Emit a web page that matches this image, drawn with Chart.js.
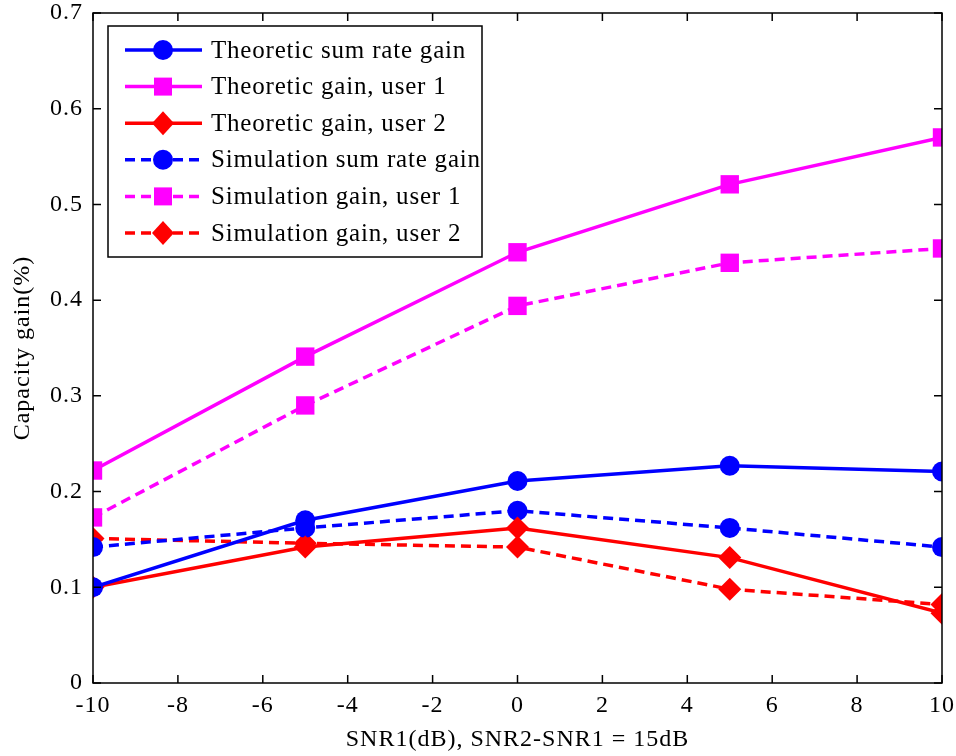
<!DOCTYPE html>
<html>
<head>
<meta charset="utf-8">
<script src="https://cdn.jsdelivr.net/npm/chart.js@4/dist/chart.umd.min.js"></script>
<style>
  html, body { margin: 0; padding: 0; background: #fff; }
  #wrap { width: 956px; height: 756px; }
</style>
</head>
<body>
<div id="wrap"><canvas id="chart" width="956" height="756"></canvas></div>
<script>
// SNR1 values (dB)
const snr1 = [-10, -5, 0, 5, 10];

// capacity gain values
const theoSum   = [0.100, 0.170, 0.211, 0.227, 0.221];
const theoUser1 = [0.222, 0.341, 0.450, 0.521, 0.570];
const theoUser2 = [0.100, 0.142, 0.162, 0.131, 0.073];
const simSum    = [0.142, 0.162, 0.180, 0.162, 0.142];
const simUser1  = [0.173, 0.290, 0.394, 0.439, 0.454];
const simUser2  = [0.151, 0.146, 0.142, 0.098, 0.082];

const seriesNames = [
    'Theoretic sum rate gain',
    'Theoretic gain, user 1',
    'Theoretic gain, user 2',
    'Simulation sum rate gain',
    'Simulation gain, user 1',
    'Simulation gain, user 2'
];

const xTicks = [-10, -8, -6, -4, -2, 0, 2, 4, 6, 8, 10];
const yTicks = [0, 0.1, 0.2, 0.3, 0.4, 0.5, 0.6, 0.7];

const FONT = '"Liberation Serif", "Times New Roman", serif';
const BLUE = '#0000ff', MAGENTA = '#ff00ff', RED = '#ff0000';
const DASH = [10, 6];

function toPoints(values) {
    return values.map((v, i) => ({ x: snr1[i], y: v }));
}

function makeSet(label, values, color, style, radius, dashed) {
    return {
        label: label,
        data: toPoints(values),
        borderColor: color,
        backgroundColor: color,
        borderWidth: 3.5,
        borderDash: dashed ? DASH : [],
        pointStyle: style,
        pointRadius: radius,
        pointHoverRadius: radius,
        pointBorderWidth: 0,
        tension: 0,
        fill: false
    };
}

const datasets = [
    makeSet(seriesNames[0], theoSum, BLUE, 'circle', 10, false),
    makeSet(seriesNames[1], theoUser1, MAGENTA, 'rect', 13, false),
    makeSet(seriesNames[2], theoUser2, RED, 'rectRot', 11.5, false),
    makeSet(seriesNames[3], simSum, BLUE, 'circle', 10, true),
    makeSet(seriesNames[4], simUser1, MAGENTA, 'rect', 13, true),
    makeSet(seriesNames[5], simUser2, RED, 'rectRot', 11.5, true)
];

function drawMarker(ctx, style, x, y, color) {
    ctx.save();
    ctx.fillStyle = color;
    ctx.beginPath();
    if (style === 'circle') {
        ctx.arc(x, y, 10, 0, Math.PI * 2);
    } else if (style === 'rect') {
        ctx.rect(x - 9, y - 9, 18, 18);
    } else {
        ctx.moveTo(x - 11, y);
        ctx.lineTo(x, y - 12);
        ctx.lineTo(x + 11, y);
        ctx.lineTo(x, y + 12);
        ctx.closePath();
    }
    ctx.fill();
    ctx.restore();
}

// the original figure's text is a little wider spaced than Liberation Serif
// (resizing the canvas resets the context, so set it again before layout and draw)
const spacingPlugin = {
    id: 'spacing',
    beforeLayout(chart) { chart.ctx.letterSpacing = '1px'; },
    beforeDraw(chart) { chart.ctx.letterSpacing = '1px'; }
};

// frame with inward ticks on all four sides, like the original figure
const framePlugin = {
    id: 'frame',
    afterDraw(chart) {
        const ctx = chart.ctx;
        const area = chart.chartArea;
        const xs = chart.scales.x, ys = chart.scales.y;
        ctx.save();
        ctx.strokeStyle = '#000';
        ctx.lineWidth = 1.5;
        ctx.strokeRect(area.left, area.top, area.right - area.left, area.bottom - area.top);
        const len = 8;
        ctx.beginPath();
        xTicks.forEach(t => {
            const px = xs.getPixelForValue(t);
            ctx.moveTo(px, area.bottom);
            ctx.lineTo(px, area.bottom - len);
            ctx.moveTo(px, area.top);
            ctx.lineTo(px, area.top + len);
        });
        yTicks.forEach(t => {
            const py = ys.getPixelForValue(t);
            ctx.moveTo(area.left, py);
            ctx.lineTo(area.left + len, py);
            ctx.moveTo(area.right, py);
            ctx.lineTo(area.right - len, py);
        });
        ctx.stroke();
        ctx.restore();
    }
};

// legend box in the upper left, drawn over the data
const legendPlugin = {
    id: 'boxLegend',
    afterDraw(chart) {
        const ctx = chart.ctx;
        const left = 108, top = 26, width = 374, height = 231;
        ctx.save();
        ctx.fillStyle = '#fff';
        ctx.fillRect(left, top, width, height);
        ctx.strokeStyle = '#000';
        ctx.lineWidth = 1.5;
        ctx.strokeRect(left, top, width, height);
        ctx.font = '25px ' + FONT;
        ctx.letterSpacing = '0.8px';
        ctx.textBaseline = 'middle';
        chart.data.datasets.forEach((ds, i) => {
            const y = 50 + i * 36.6;
            ctx.strokeStyle = ds.borderColor;
            ctx.lineWidth = 3.5;
            ctx.setLineDash(ds.borderDash);
            ctx.beginPath();
            ctx.moveTo(125, y);
            ctx.lineTo(202, y);
            ctx.stroke();
            ctx.setLineDash([]);
            drawMarker(ctx, ds.pointStyle, 163, y, ds.borderColor);
            ctx.fillStyle = '#000';
            ctx.fillText(ds.label, 211, y + 1);
        });
        ctx.restore();
    }
};

new Chart(document.getElementById('chart'), {
    type: 'line',
    data: { datasets: datasets },
    options: {
        responsive: false,
        animation: false,
        layout: { padding: { left: 0, right: 0, top: 0, bottom: 0 } },
        plugins: {
            legend: { display: false },
            tooltip: { enabled: false }
        },
        scales: {
            x: {
                type: 'linear',
                min: -10,
                max: 10,
                afterFit: scale => {
                    scale.height = 73;
                    scale.paddingLeft = 0;
                    scale.paddingRight = 14;
                },
                afterBuildTicks: scale => { scale.ticks = xTicks.map(v => ({ value: v })); },
                grid: { display: false, drawTicks: false },
                border: { display: false },
                ticks: { color: '#000', padding: 8, font: { family: FONT, size: 24 } },
                title: {
                    display: true,
                    text: 'SNR1(dB), SNR2-SNR1 = 15dB',
                    color: '#000',
                    font: { family: FONT, size: 24 },
                    padding: { top: 0, bottom: 2 }
                }
            },
            y: {
                type: 'linear',
                min: 0,
                max: 0.7,
                afterFit: scale => {
                    scale.width = 93;
                    scale.paddingTop = 12;
                    scale.paddingBottom = 0;
                },
                afterBuildTicks: scale => { scale.ticks = yTicks.map(v => ({ value: v })); },
                grid: { display: false, drawTicks: false },
                border: { display: false },
                ticks: {
                    color: '#000',
                    padding: 10,
                    font: { family: FONT, size: 24 },
                    callback: v => (v === 0 ? '0' : v.toFixed(1))
                },
                title: {
                    display: true,
                    text: 'Capacity gain(%)',
                    color: '#000',
                    font: { family: FONT, size: 24 },
                    padding: { top: 8, bottom: 0 }
                }
            }
        }
    },
    plugins: [spacingPlugin, framePlugin, legendPlugin]
});
</script>
</body>
</html>
